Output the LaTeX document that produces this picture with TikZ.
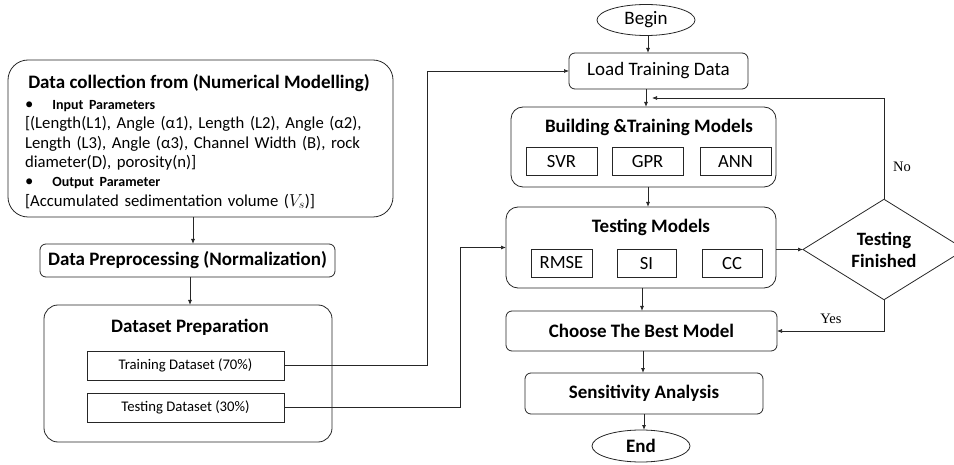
\documentclass[tikz,border=0pt]{standalone}
\usepackage{fontspec}
\setmainfont{Carlito}
\newfontfamily\timesfont{Liberation Serif}
\usepackage{tikz}
\usetikzlibrary{shapes.geometric, arrows.meta, positioning}

\begin{document}
\begin{tikzpicture}[
    x=1pt, y=-1pt,
    every node/.style={inner sep=0pt, outer sep=0pt},
    stage/.style={rectangle, draw=black!85, line width=0.8pt, rounded corners=6pt, text centered, font=\fontsize{19}{21}\selectfont\bfseries},
    group/.style={rectangle, draw=black!85, line width=0.8pt, rounded corners=14pt},
    title/.style={font=\fontsize{19}{21}\selectfont\bfseries},
    model/.style={rectangle, draw=black!85, line width=0.8pt, text centered, font=\fontsize{18.6}{20}\selectfont, minimum height=28pt},
    split/.style={rectangle, draw=black!85, line width=0.8pt, text centered, minimum width=197pt, minimum height=29pt, font=\fontsize{14.7}{16}\selectfont},
    terminal/.style={ellipse, draw=black!85, line width=0.8pt, minimum width=98pt, minimum height=31pt, font=\fontsize{19}{21}\selectfont},
    decision/.style={diamond, draw=black!85, line width=0.8pt, minimum width=162pt, minimum height=63pt, align=center, font=\fontsize{18.8}{22}\selectfont\bfseries},
    arrow/.style={-{Latex[length=5pt,width=4pt]}, draw=black!85, line width=0.8pt},
    answer/.style={font=\fontsize{14.5}{16}\selectfont\timesfont}
]
\useasboundingbox (0,0) rectangle (954,465);

% Left column
\node[group, rounded corners=20pt, minimum width=385pt, minimum height=157pt] (collect) at (200.5,138.5) {};
\node[title] (collecttitle) at (199,83) {Data collection from (Numerical Modelling)};
\node[anchor=west, text width=370pt, align=left, font=\fontsize{16.7}{19.4}\selectfont] (params) at (25,154.5)
  {\textbullet\hspace{19pt}{\fontsize{14}{19.4}\selectfont\bfseries Input Parameters}\\{}%
   [(Length(L1), Angle (α1), Length (L2), Angle (α2),\\
   Length (L3), Angle (α3), Channel Width (B), rock\\
   diameter(D), porosity(n)]\\
   \textbullet\hspace{19pt}{\fontsize{14}{19.4}\selectfont\bfseries Output Parameter}\\{}%
   [Accumulated sedimentation volume ($V_s$)]};
\node[stage, minimum width=295pt, minimum height=33pt] (norm) at (187.5,260.5) {Data Preprocessing (Normalization)};
\node[group, minimum width=288pt, minimum height=137pt] (prep) at (188,373.5) {};
\node[title] (preptitle) at (190,327) {Dataset Preparation};
\node[split] (train) at (185.5,365.5) {Training Dataset (70\%)};
\node[split] (test) at (185.5,407.5) {Testing Dataset (30\%)};

% Right column
\node[terminal] (begin) at (646,20) {Begin};
\node[stage, font=\fontsize{19}{21}\selectfont, minimum width=179pt, minimum height=36pt] (load) at (658.5,71) {Load Training Data};
\node[group, rounded corners=12pt, minimum width=265pt, minimum height=80pt] (build) at (643.5,147) {};
\node[title] (buildtitle) at (649,127) {Building \&Training Models};
\node[model, minimum width=71pt] (svr) at (561.5,161.5) {SVR};
\node[model, minimum width=71pt] (gpr) at (647.5,161.5) {GPR};
\node[model, minimum width=71pt] (ann) at (735.5,161.5) {ANN};
\node[group, rounded corners=12pt, minimum width=270pt, minimum height=81pt] (testing) at (641,247.5) {};
\node[title] (testingtitle) at (651,227) {Testing Models};
\node[model, minimum width=61pt] (rmse) at (561.5,263) {RMSE};
\node[model, minimum width=59pt] (si) at (646.5,263.5) {SI};
\node[model, minimum width=60pt] (cc) at (732,263.5) {CC};
\node[decision] (finished) at (884,249.5) {Testing\\Finished};
\node[stage, minimum width=271pt, minimum height=40pt] (choose) at (641.5,331) {Choose The Best Model};
\node[stage, minimum width=238pt, minimum height=41pt] (sens) at (644,393.5) {Sensitivity Analysis};
\node[terminal, font=\fontsize{19}{21}\selectfont\bfseries, minimum height=32pt] (end) at (641,446) {End};
\node[answer] (no) at (902,167) {No};
\node[answer] (yes) at (831,319) {Yes};

% Junction points
\coordinate (trainbend) at (427,0);
\coordinate (testbend) at (460,0);
\coordinate (loop) at (652,98);

% Arrows
\draw[arrow] (collect.south -| 193,0) -- (norm.north -| 193,0);
\draw[arrow] (norm.south -| 190,0) -- (prep.north -| 190,0);
\draw[arrow, line width=0.7pt] (train.east) -| (trainbend |- load.west) -- (load.west);
\draw[arrow, line width=0.7pt] (test.east) -| (testbend |- testing.west) -- (testing.west);
\draw[arrow] (begin.south -| 648,0) -- (load.north -| 648,0);
\draw[arrow] (load.south -| 646,0) -- (build.north -| 646,0);
\draw[arrow] (build.south -| 648,0) -- (testing.north -| 648,0);
\draw[arrow, line width=0.7pt] (finished.north) |- (loop);
\draw[arrow, line width=0.7pt] (testing.east |- finished.west) -- (finished.west);
\draw[arrow, line width=0.7pt] (finished.south) |- (choose.east);
\draw[arrow] (testing.south -| 642,0) -- (choose.north -| 642,0);
\draw[arrow] (choose.south -| 643,0) -- (sens.north -| 643,0);
\draw[arrow] (sens.south -| 644,0) -- (end.north -| 644,0);

\end{tikzpicture}
\end{document}
